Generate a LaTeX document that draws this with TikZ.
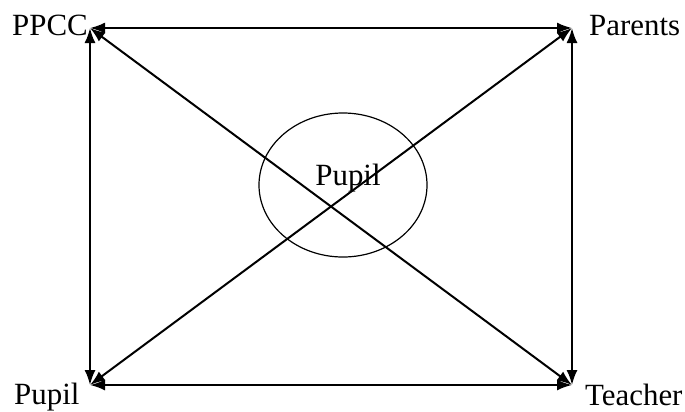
\documentclass[tikz,border=0pt]{standalone}
\usepackage{fontspec}
\setmainfont{Liberation Serif}
\usetikzlibrary{arrows.meta,positioning}
\tikzset{
  lbl/.style={inner sep=0pt, font=\fontsize{31}{35}\selectfont},
  ar/.style={{Latex[length=15bp,width=11bp]}-{Latex[length=15bp,width=11bp]}, line width=2bp},
}

\begin{document}
\begin{tikzpicture}[x=1bp,y=-1bp]
\useasboundingbox (0,0) rectangle (685,411);
% corners
\coordinate (tl) at (90,28);
\coordinate (tr) at (572,28);
\coordinate (bl) at (90,385);
\coordinate (br) at (572,385);
% labels
\node[lbl,anchor=base east] (ppcc) at (88,35) {PPCC};
\node[lbl,anchor=base west] (parents) at (589,35) {Parents};
\node[lbl,anchor=base west] (pupilb) at (14,404) {Pupil};
\node[lbl,anchor=base west] (teacher) at (585,405) {Teacher};
% centre
\draw[line width=1.2bp] (343,185) ellipse (84 and 72);
\node[lbl] (pupilc) at (348,178) {Pupil};
% links
\draw[ar] (tl) -- (tr);
\draw[ar] (tl) -- (bl);
\draw[ar] (tr) -- (br);
\draw[ar] (bl) -- (br);
\draw[ar] (tl) -- (br);
\draw[ar] (bl) -- (tr);
\end{tikzpicture}
\end{document}
